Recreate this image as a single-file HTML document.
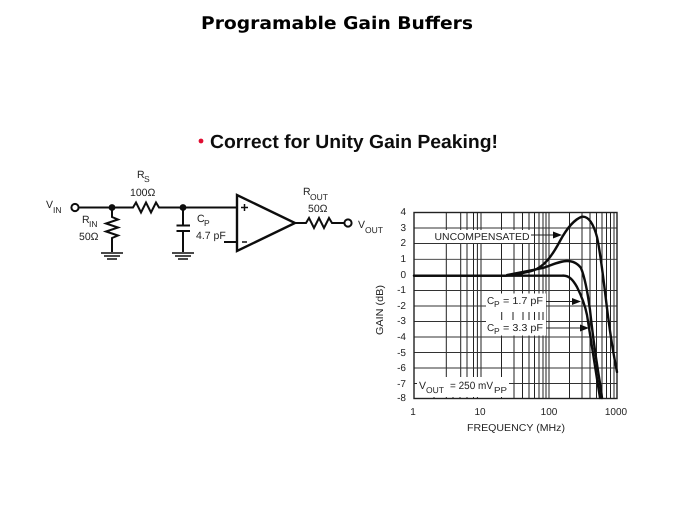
<!DOCTYPE html>
<html><head><meta charset="utf-8"><style>
html,body{margin:0;padding:0;background:#fff;width:674px;height:506px;overflow:hidden}
svg{display:block}
text{font-family:"Liberation Sans",Arial,sans-serif;fill:#222;text-rendering:geometricPrecision}
.s{font-size:10.5px}
.c{font-size:10px}
.sub{font-size:8.5px}
.w{fill:none;stroke:#111;stroke-width:2}
.g{stroke:#333;stroke-width:.9}
.v{stroke:#222;stroke-width:1}
.cv{fill:none;stroke:#111;stroke-width:2.4;stroke-linejoin:round;stroke-linecap:round}
</style></head><body>
<svg width="674" height="506" viewBox="0 0 674 506" xmlns="http://www.w3.org/2000/svg">
<defs><filter id="b" x="0" y="0" width="100%" height="100%"><feGaussianBlur stdDeviation="0.35"/></filter></defs>
<g filter="url(#b)">
<rect width="674" height="506" fill="#fff"/>
<text x="201" y="29" textLength="272" lengthAdjust="spacingAndGlyphs" style="font-family:'DejaVu Sans',sans-serif;font-weight:700;font-size:17.5px;fill:#000">Programable Gain Buffers</text>
<circle cx="201" cy="141" r="2.4" fill="#e01030"/>
<text x="210" y="148" textLength="288" lengthAdjust="spacingAndGlyphs" style="font-weight:700;font-size:19px;fill:#111">Correct for Unity Gain Peaking!</text>

<!-- circuit -->
<circle cx="75" cy="207.5" r="3.6" fill="#fff" stroke="#111" stroke-width="2"/>
<path class="w" d="M79 207.5H133l3-5 5 10 5-10 5 10 5-10 3 5H237"/>
<circle cx="112" cy="207.5" r="3.4" fill="#111"/>
<circle cx="183" cy="207.5" r="3.4" fill="#111"/>
<path class="w" d="M112 207.5V217l6 2.5-12 4 12 4-12 4 12 4-6 2.5V252"/>
<path class="w" d="M183 207.5V225M183 231V252"/>
<path d="M176.5 225.5H190M176.5 231H190" stroke="#111" stroke-width="2" fill="none"/>
<path d="M101 253H123M104 256H120M107 259H117M172 253H194M175 256H191M178 259H188" stroke="#111" stroke-width="1.5" fill="none"/>
<path d="M237 195V251L295 223Z" fill="#fff" stroke="#111" stroke-width="2.4"/>
<path class="w" d="M224 242H237M295 223H306l3-5 5 10 5-10 5 10 5-10 3 5H344"/>
<circle cx="348" cy="223" r="3.6" fill="#fff" stroke="#111" stroke-width="2"/>
<path d="M241 207.5H248M244.5 204V211M242 242H247" stroke="#111" stroke-width="1.5" fill="none"/>
<text class="s" x="46" y="208">V</text><text class="sub" x="53" y="213">IN</text>
<text class="s" x="137" y="178">R</text><text class="sub" x="144" y="182">S</text>
<text class="s" x="130" y="196">100Ω</text>
<text class="s" x="82" y="223">R</text><text class="sub" x="89" y="227">IN</text>
<text class="s" x="79" y="240">50Ω</text>
<text class="s" x="197" y="222">C</text><text class="sub" x="204" y="226">P</text>
<text class="s" x="196" y="239">4.7 pF</text>
<text class="s" x="303" y="195">R</text><text class="sub" x="310" y="200">OUT</text>
<text class="s" x="308" y="212">50Ω</text>
<text class="s" x="358" y="228">V</text><text class="sub" x="365" y="233">OUT</text>

<!-- grid verticals -->
<g class="v">
<path d="M446.3 212.5V378M460.7 212.5V378M467 212.5V378M473.5 212.5V378M477.4 212.5V378M481 212.5V378M434 394V398M446.3 394V398M453 394V398M460 394V398M467 394V398M473.5 394V398M477.4 394V398"/>
<path d="M501.5 212.5V398M514 212.5V398M522.5 212.5V398M529 212.5V398M534.5 212.5V398M539 212.5V398M543 212.5V398M546 212.5V398M549 212.5V398"/>
<path d="M569.5 212.5V398M582 212.5V398M590 212.5V398M596.5 212.5V398M602 212.5V398M606.5 212.5V398M610.5 212.5V398M614 212.5V398"/>
</g>
<!-- grid horizontals -->
<g class="g">
<path d="M414 228H617M414 243.5H617M414 259.3H617M414 290.5H617M414 306H617M414 321.5H617M414 337H617M414 352.5H617M414 368H617M414 383.5H617"/>
</g>
<!-- masks -->
<rect x="433" y="230" width="98" height="13" fill="#fff"/>
<rect x="486" y="293.5" width="60" height="42" fill="#fff"/>
<rect x="417" y="377" width="92" height="20" fill="#fff"/>
<path d="M501.7 312V320M513 312V320M523 312V320M529 312V320M534.5 312V320M539 312V320M543 312V320" stroke="#222" stroke-width="1"/>
<rect x="414" y="212.5" width="203" height="186" fill="none" stroke="#222" stroke-width="1.4"/>

<!-- curves -->
<path class="cv" d="M414 275.7H506C515 274.5 525 273 533 270.5 544 267 552 256 560 241 567 228 575 219 582 216.7 588 216 593 222 597 237 601 255 604 285 608 316 611 340 614 357 617 372"/>
<path class="cv" d="M507 275C522 272 533 270 543 268 552 265 560 261 567 261 573 261 578 264 581 268 585 278 588 295 590 310 592 328 594 345 597 364 599 378 601 388 602 398"/>
<path class="cv" d="M414 275.7H562C569 275 573 280 577 287 581 295 585 305 587 315 590 335 595 365 600 398"/>

<!-- arrows -->
<path d="M531 235H556" stroke="#222" stroke-width="1"/><path d="M562 235l-9-3.5v7Z" fill="#111"/>
<path d="M546 301.5H574" stroke="#222" stroke-width="1"/><path d="M581 301.5l-9-3.5v7Z" fill="#111"/>
<path d="M546 328H582" stroke="#222" stroke-width="1"/><path d="M589 328l-9-3.5v7Z" fill="#111"/>
<path d="M414 383.5h3" stroke="#222"/>

<!-- chart labels -->
<text class="c" x="434.5" y="240" textLength="95" lengthAdjust="spacingAndGlyphs">UNCOMPENSATED</text>
<text class="c" x="487" y="304">C</text><text class="sub" x="494" y="307">P</text><text class="c" x="503" y="304" textLength="40" lengthAdjust="spacingAndGlyphs">= 1.7 pF</text>
<text class="c" x="487" y="331">C</text><text class="sub" x="494" y="334">P</text><text class="c" x="503" y="331" textLength="40" lengthAdjust="spacingAndGlyphs">= 3.3 pF</text>
<text class="s" x="419" y="389">V</text><text class="sub" x="426" y="393">OUT</text><text class="s" x="450" y="389" textLength="43" lengthAdjust="spacingAndGlyphs">= 250 mV</text><text class="sub" x="494" y="393" textLength="13" lengthAdjust="spacingAndGlyphs">PP</text>

<g class="c" text-anchor="end" style="fill:#333">
<text x="406" y="215">4</text><text x="406" y="231">3</text><text x="406" y="246">2</text><text x="406" y="262">1</text><text x="406" y="278">0</text>
<text x="406" y="293">-1</text><text x="406" y="309">-2</text><text x="406" y="324">-3</text><text x="406" y="340">-4</text><text x="406" y="356">-5</text><text x="406" y="371">-6</text><text x="406" y="387">-7</text><text x="406" y="401">-8</text>
</g>
<g class="c" text-anchor="middle">
<text x="413" y="415">1</text><text x="480" y="415">10</text><text x="549" y="415">100</text><text x="616" y="415">1000</text>
<text x="516" y="431" textLength="98" lengthAdjust="spacingAndGlyphs">FREQUENCY (MHz)</text>
<text transform="translate(383 310) rotate(-90)" textLength="50" lengthAdjust="spacingAndGlyphs" x="0" y="0">GAIN (dB)</text>
</g>
</g>
</svg>
</body></html>
